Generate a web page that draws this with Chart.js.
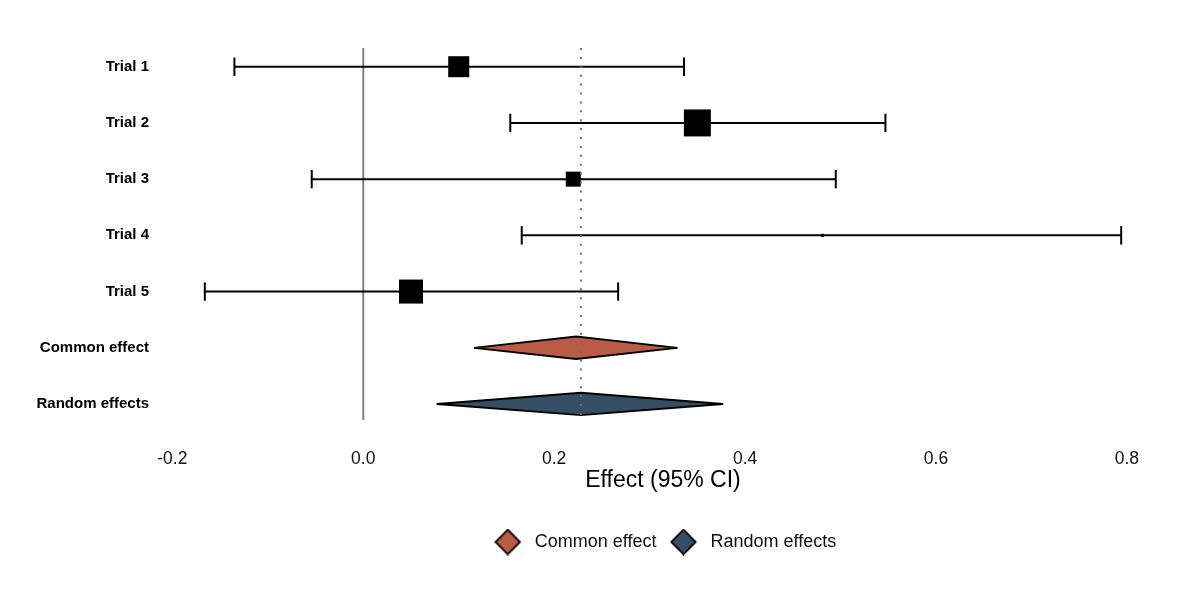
<!DOCTYPE html>
<html>
<head>
<meta charset="utf-8">
<script src="https://cdn.jsdelivr.net/npm/chart.js@4.4.1/dist/chart.umd.min.js"></script>
<style>
html,body{margin:0;padding:0;background:#ffffff;}
#wrap{width:1200px;height:600px;position:relative;}
</style>
</head>
<body>
<div id="wrap"><canvas id="c"></canvas></div>
<script>
// ---- data ----
const rowLabels = ['Trial 1', 'Trial 2', 'Trial 3', 'Trial 4', 'Trial 5', 'Common effect', 'Random effects'];
const trialRows = [1, 2, 3, 4, 5];
const trialEst = [0.100, 0.350, 0.220, 0.481, 0.050];
const trialLo = [-0.135, 0.154, -0.054, 0.166, -0.166];
const trialHi = [0.336, 0.547, 0.495, 0.794, 0.267];
const trialWeight = [22.3, 36.8, 11.4, 0.5, 29.1];   // percent weights (square area)
const summaryNames = ['Common effect', 'Random effects'];
const summaryRows = [6, 7];
const summaryEst = [0.223, 0.228];
const summaryLo = [0.116, 0.077];
const summaryHi = [0.329, 0.377];
const nullEffect = 0;
const xTicks = [-0.2, 0.0, 0.2, 0.4, 0.6, 0.8];

// ---- styles ----
const FONT = "'Liberation Sans', Arial, Helvetica, sans-serif";
const summaryColors = ['#b85c46', '#364e63'];
const Y_MIN = 0.667, Y_MAX = 7.285;
const X_MIN = -0.214, X_MAX = 0.842;
const DIAMOND_HALF = 0.2;    // half height of summary diamonds, in row units
const SQUARE_K = 4.45;       // square side (px) per sqrt(weight)

function diamondImage(color) {
  const s = 27;
  const cv = document.createElement('canvas');
  cv.width = s; cv.height = s;
  const g = cv.getContext('2d');
  g.beginPath();
  g.moveTo(s / 2, 1.2); g.lineTo(s - 1.2, s / 2); g.lineTo(s / 2, s - 1.2); g.lineTo(1.2, s / 2); g.closePath();
  g.fillStyle = color; g.fill();
  g.lineWidth = 1.8; g.strokeStyle = '#000'; g.lineJoin = 'miter'; g.stroke();
  return cv;
}
const legendImgs = summaryColors.map(diamondImage);

const datasets = [];

// null-effect line
datasets.push({
  data: [{x: nullEffect, y: Y_MIN}, {x: nullEffect, y: Y_MAX}],
  borderColor: '#808080', borderWidth: 2, pointRadius: 0, showLine: true, fill: false, order: 50
});

// CI lines
trialRows.forEach((r, i) => {
  datasets.push({
    data: [{x: trialLo[i], y: r}, {x: trialHi[i], y: r}],
    borderColor: '#000', borderWidth: 2, pointRadius: 0, showLine: true, fill: false, order: 40
  });
});

// CI caps
datasets.push({
  data: trialRows.flatMap((r, i) => [{x: trialLo[i], y: r}, {x: trialHi[i], y: r}]),
  showLine: false, pointStyle: 'line', rotation: 90, pointRadius: 9.2,
  borderColor: '#000', pointBorderWidth: 2, borderWidth: 2, order: 30
});

// squares (estimate, sized by weight)
datasets.push({
  data: trialRows.map((r, i) => ({x: trialEst[i], y: r})),
  showLine: false, pointStyle: 'rect',
  pointRadius: trialWeight.map(w => SQUARE_K * Math.sqrt(w) / Math.SQRT2),
  backgroundColor: '#000', borderColor: '#000', pointBorderWidth: 0, order: 20
});

// summary diamonds: upper half filled to lower half
summaryRows.forEach((r, i) => {
  datasets.push({
    data: [{x: summaryLo[i], y: r}, {x: summaryEst[i], y: r - DIAMOND_HALF}, {x: summaryHi[i], y: r}],
    showLine: true, pointRadius: 0, borderColor: '#000', borderWidth: 1.8, tension: 0,
    backgroundColor: summaryColors[i], fill: '+1', order: 12
  });
  datasets.push({
    data: [{x: summaryLo[i], y: r}, {x: summaryEst[i], y: r + DIAMOND_HALF}, {x: summaryHi[i], y: r}],
    showLine: true, pointRadius: 0, borderColor: '#000', borderWidth: 1.8, tension: 0,
    fill: false, order: 11
  });
});

// pooled (random effects) dotted reference line
datasets.push({
  data: [{x: summaryEst[1], y: Y_MIN}, {x: summaryEst[1], y: Y_MAX}],
  borderColor: '#6e6e6e', borderWidth: 2, borderDash: [2, 6.9], pointRadius: 0,
  showLine: true, fill: false, order: 1
});

new Chart(document.getElementById('c'), {
  type: 'line',
  data: {datasets},
  options: {
    responsive: true,
    maintainAspectRatio: false,
    animation: false,
    events: [],
    layout: {padding: {left: 0, right: 33, top: 48, bottom: 39}},
    elements: {line: {tension: 0}},
    scales: {
      x: {
        type: 'linear',
        min: X_MIN, max: X_MAX,
        grid: {display: false, drawTicks: false},
        border: {display: false},
        afterBuildTicks: s => { s.ticks = xTicks.map(v => ({value: v})); },
        afterFit: s => { s.height = 104; },
        ticks: {
          padding: 28.5,
          font: {family: FONT, size: 17.5},
          color: '#111',
          callback: v => v.toFixed(1)
        },
        title: {
          display: true, text: 'Effect (95% CI)',
          font: {family: FONT, size: 23}, color: '#000',
          padding: {top: 0, bottom: 30}
        }
      },
      y: {
        type: 'linear',
        reverse: true,
        min: Y_MIN, max: Y_MAX,
        grid: {display: false, drawTicks: false},
        border: {display: false},
        afterBuildTicks: s => { s.ticks = rowLabels.map((_, i) => ({value: i + 1})); },
        afterFit: s => { s.width = 159; },
        ticks: {
          padding: 10,
          font: {family: FONT, size: 15, weight: 'bold'},
          color: '#000',
          callback: v => rowLabels[Math.round(v) - 1] || ''
        }
      }
    },
    plugins: {
      tooltip: {enabled: false},
      legend: {
        display: true,
        position: 'bottom',
        fullSize: false,
        onClick: null,
        labels: {
          usePointStyle: true,
          pointStyleWidth: 36,
          padding: 9,
          color: '#111',
          font: {family: FONT, size: 18},
          generateLabels: () => summaryNames.map((n, i) => ({
            text: n, pointStyle: legendImgs[i], fillStyle: summaryColors[i],
            strokeStyle: '#000', lineWidth: 1.5, hidden: false, fontColor: '#111'
          }))
        }
      }
    }
  }
});
</script>
</body>
</html>
